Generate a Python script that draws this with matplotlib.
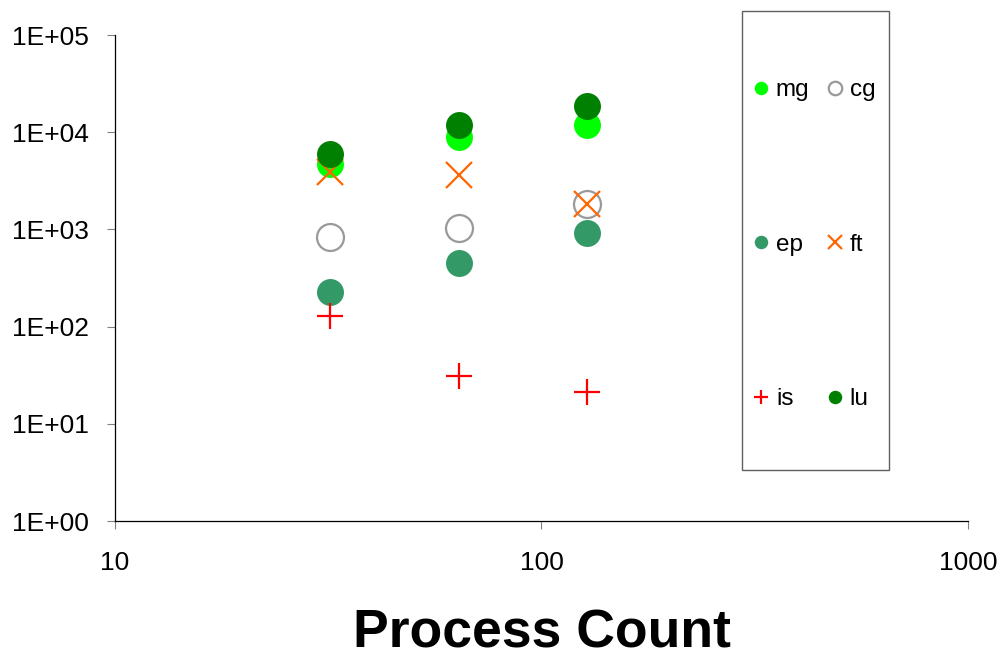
import matplotlib
matplotlib.use("Agg")
import matplotlib.pyplot as plt
from matplotlib.patches import Rectangle
from matplotlib.ticker import FuncFormatter, NullLocator

plt.rcParams['font.family'] = ['Liberation Sans', 'DejaVu Sans']

# process counts
procs = [32, 64, 128]

# timing per benchmark
mg = [4700, 9000, 12000]
cg = [840, 1040, 1820]
ep = [229, 454, 910]
ft = [3900, 3650, 1820]
is_ = [129, 31, 21.4]
lu = [5900, 12000, 18700]

fig = plt.figure(figsize=(10.01, 6.58), dpi=100)
ax = fig.add_axes([0.1149, 0.2082, 0.8521, 0.7386])

ms = 19.4
h_mg, = ax.plot(procs, mg, 'o', ms=ms, color='#00ff00', mec='none', label='mg')
h_cg, = ax.plot(procs, cg, 'o', ms=ms, mfc='none', mec='#999999', mew=1.6, label='cg')
h_ep, = ax.plot(procs, ep, 'o', ms=ms, color='#339966', mec='none', label='ep')
h_ft, = ax.plot(procs, ft, 'x', ms=ms, color='#ff6600', mew=1.6, label='ft')
h_is, = ax.plot(procs, is_, '+', ms=ms, color='#ff0000', mew=1.6, label='is')
h_lu, = ax.plot(procs, lu, 'o', ms=ms, color='#008000', mec='none', label='lu')

ax.set_xscale('log')
ax.set_yscale('log')
ax.set_xlim(10, 1000)
ax.set_ylim(1, 1e5)
ax.set_xticks([10, 100, 1000])
ax.set_yticks([1, 10, 100, 1e3, 1e4, 1e5])
ax.xaxis.set_minor_locator(NullLocator())
ax.yaxis.set_minor_locator(NullLocator())
ax.xaxis.set_major_formatter(FuncFormatter(lambda v, p: '%d' % v))
ax.yaxis.set_major_formatter(FuncFormatter(lambda v, p: '{:.0E}'.format(v)))
ax.tick_params(axis='both', direction='out', length=5.5, width=0.8, color='#808080', labelsize=19)
ax.tick_params(axis='y', pad=13)
ax.tick_params(axis='x', pad=16)

for s in ['top', 'right']:
    ax.spines[s].set_visible(False)
for s in ['left', 'bottom']:
    ax.spines[s].set_linewidth(0.9)

ax.set_xlabel('Process Count', fontsize=38.5, fontweight='bold', labelpad=24)

# legend box
fig.patches.append(Rectangle((742 / 1001, 1 - 470 / 658), 147 / 1001, 459 / 658,
                             transform=fig.transFigure, fill=False, edgecolor='#606060', lw=1))
fig.legend([h_mg, h_ep, h_is, h_cg, h_ft, h_lu], ['mg', 'ep', 'is', 'cg', 'ft', 'lu'],
           loc='center', bbox_to_anchor=(0.812, 0.628), ncol=2, frameon=False,
           fontsize=17.5, markerscale=0.5, labelspacing=5.45, handlelength=0.9,
           handletextpad=0.15, columnspacing=0.6)

fig.savefig('out.png', dpi=100)
